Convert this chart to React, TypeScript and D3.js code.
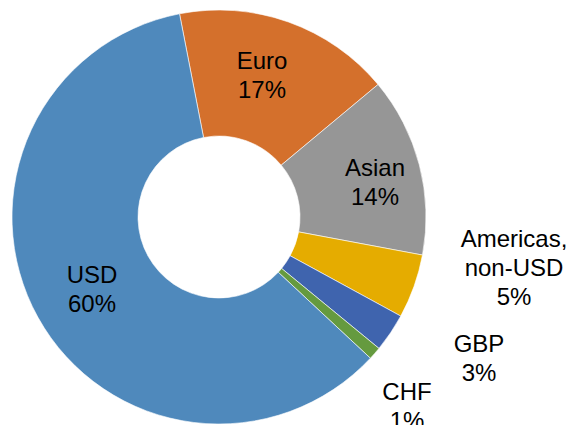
import React from "react";
import * as d3 from "d3";

const categories = ["Euro", "Asian", "Americas, non-USD", "GBP", "CHF", "USD"];
const values = [17, 14, 5, 3, 1, 60];
const labelLines = [["Euro", "17%"], ["Asian", "14%"], ["Americas,", "non-USD", "5%"], ["GBP", "3%"], ["CHF", "1%"], ["USD", "60%"]];
const colors = ["#D4702C", "#969696", "#E5AC00", "#3F64AE", "#659A3F", "#4F89BC"];
// label centers (first-line baseline)
const labelPos: [number, number][] = [[262, 69], [375, 176], [514, 247], [479, 352], [407, 400], [92, 283]];

export default function App() {
  const W = 576, H = 425;
  const cx = 219, cy = 217, R = 207, r = 81;
  const start = (-11 * Math.PI) / 180;
  const pie = d3.pie<number>().sort(null).startAngle(start).endAngle(start + 2 * Math.PI);
  const arcs = pie(values);
  const arc = d3.arc<d3.PieArcDatum<number>>().innerRadius(r).outerRadius(R);
  return (
    <svg width={W} height={H} style={{ position: "absolute", left: 0, top: 0, background: "#fff" }}>
      <g transform={`translate(${cx},${cy})`}>
        {arcs.map((a, i) => (
          <path key={categories[i]} d={arc(a) || ""} fill={colors[i]} stroke="#ffffff" strokeWidth={0.6} />
        ))}
      </g>
      {labelLines.map((lines, i) => (
        <text key={i} x={labelPos[i][0]} y={labelPos[i][1]} textAnchor="middle"
          fontFamily="Liberation Sans, Arial, sans-serif" fontSize={24} fill="#000">
          {lines.map((l, j) => (
            <tspan key={j} x={labelPos[i][0]} dy={j === 0 ? 0 : 29}>{l}</tspan>
          ))}
        </text>
      ))}
    </svg>
  );
}
